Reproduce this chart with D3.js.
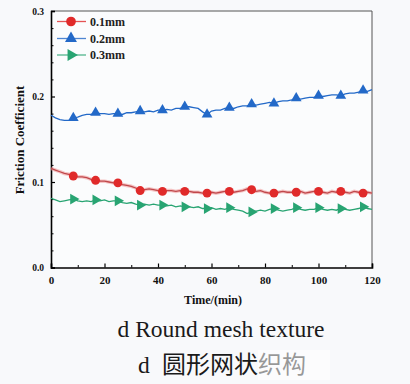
<!DOCTYPE html>
<html><head><meta charset="utf-8">
<script src="https://cdn.jsdelivr.net/npm/d3@7"></script>
<style>html,body{margin:0;padding:0;background:#f8f9fb;}svg{display:block;}</style>
</head><body><svg id="c" width="410" height="384"></svg>
<script>
const seriesNames = ["0.1mm", "0.2mm", "0.3mm"];
const seriesColors = ["#e02a2a", "#2369c8", "#28a472"];
const timeStep = 5/3; // minutes between samples
const markerEvery = 5;
const xTicks = [0, 20, 40, 60, 80, 100, 120];
const yTicks = [0.0, 0.1, 0.2, 0.3];
const yTickLabels = ["0.0", "0.1", "0.2", "0.3"];
const red01 = [0.116,0.114,0.112,0.110,0.109,0.107,0.106,0.106,0.105,0.103,0.102,0.101,0.101,0.100,0.099,0.099,0.097,0.096,0.095,0.093,0.090,0.091,0.092,0.091,0.090,0.089,0.090,0.090,0.089,0.090,0.089,0.089,0.088,0.088,0.087,0.087,0.088,0.087,0.088,0.089,0.089,0.088,0.089,0.090,0.092,0.091,0.089,0.090,0.088,0.087,0.087,0.088,0.089,0.088,0.088,0.088,0.089,0.087,0.088,0.089,0.089,0.088,0.087,0.089,0.088,0.089,0.088,0.087,0.089,0.088,0.087,0.088,0.087];
const blue02 = [0.178,0.175,0.173,0.172,0.172,0.175,0.176,0.178,0.179,0.179,0.181,0.180,0.180,0.179,0.180,0.180,0.179,0.181,0.181,0.182,0.183,0.182,0.183,0.182,0.184,0.184,0.185,0.184,0.186,0.186,0.188,0.188,0.187,0.186,0.182,0.179,0.183,0.184,0.184,0.186,0.187,0.186,0.188,0.189,0.189,0.191,0.190,0.191,0.192,0.193,0.192,0.194,0.195,0.195,0.196,0.198,0.197,0.198,0.199,0.199,0.201,0.200,0.201,0.202,0.202,0.201,0.203,0.204,0.204,0.205,0.207,0.206,0.208];
const green03 = [0.081,0.079,0.077,0.078,0.079,0.080,0.078,0.077,0.078,0.077,0.079,0.078,0.079,0.077,0.078,0.078,0.076,0.075,0.076,0.074,0.073,0.074,0.073,0.074,0.073,0.073,0.072,0.073,0.071,0.072,0.071,0.071,0.070,0.071,0.069,0.069,0.070,0.068,0.069,0.068,0.070,0.068,0.067,0.066,0.063,0.065,0.066,0.067,0.066,0.068,0.069,0.067,0.066,0.067,0.068,0.070,0.068,0.067,0.068,0.068,0.070,0.068,0.067,0.068,0.067,0.069,0.068,0.067,0.068,0.069,0.071,0.069,0.068];
const xTitle = "Time/(min)";
const yTitle = "Friction Coefficient";
const captionEn = "d Round mesh texture";
const captionZh = "圆形网状织构";

const svg = d3.select("#c");
const m = {l:51, r:372, t:11, b:267.5};
const x = d3.scaleLinear().domain([0,120]).range([m.l, m.r]);
const y = d3.scaleLinear().domain([0,0.3]).range([m.b, m.t]);
const serif = "'Liberation Serif','Times New Roman',serif";

svg.append("rect").attr("x",0).attr("y",0).attr("width",410).attr("height",384).attr("fill","#f8f9fb");
svg.append("rect").attr("x",m.l).attr("y",m.t).attr("width",m.r-m.l).attr("height",m.b-m.t).attr("fill","#fbfcfd");

// frame top/right
svg.append("path").attr("d",`M${m.l},${m.t}H${m.r}V${m.b}`).attr("fill","none").attr("stroke","#555").attr("stroke-width",1);

// axes
const xAxis = d3.axisBottom(x).tickValues(xTicks).tickSize(-4).tickPadding(9).tickFormat(d3.format("d"));
const gx = svg.append("g").attr("transform",`translate(0,${m.b})`).call(xAxis);
gx.select(".domain").attr("stroke","#000").attr("stroke-width",1.6);
gx.selectAll(".tick line").attr("stroke","#000").attr("stroke-width",1.2);
gx.selectAll("text").attr("font-family",serif).attr("font-weight","bold").attr("font-size",11).attr("fill","#111");
const xMinor = d3.axisBottom(x).tickValues(d3.range(10,120,20)).tickSize(-2.5).tickFormat("");
const gxm = svg.append("g").attr("transform",`translate(0,${m.b})`).call(xMinor);
gxm.select(".domain").remove(); gxm.selectAll("line").attr("stroke","#000");

const yAxis = d3.axisLeft(y).tickValues(yTicks).tickSize(-4).tickPadding(7).tickFormat((d,i)=>yTickLabels[i]);
const gy = svg.append("g").attr("transform",`translate(${m.l},0)`).call(yAxis);
gy.select(".domain").attr("stroke","#000").attr("stroke-width",1.6);
gy.selectAll(".tick line").attr("stroke","#000").attr("stroke-width",1.2);
gy.selectAll("text").attr("font-family",serif).attr("font-weight","bold").attr("font-size",9.5).attr("fill","#111");
const yMinor = d3.axisLeft(y).tickValues(d3.range(0.02,0.3,0.02).filter(v=>Math.abs(v*10-Math.round(v*10))>0.01)).tickSize(-2.5).tickFormat("");
const gym = svg.append("g").attr("transform",`translate(${m.l},0)`).call(yMinor);
gym.select(".domain").remove(); gym.selectAll("line").attr("stroke","#000");

// series
const allSeries = [red01, blue02, green03];
const symbols = [d3.symbolCircle, d3.symbolTriangle, d3.symbolTriangle];
const rotations = [0, 0, 90];
const sizes = [62, 50, 50];
const line = d3.line().x((d,i)=>x(i*timeStep)).y(d=>y(d));
allSeries.forEach((vals,k)=>{
  if(k===0){
    svg.append("path").datum(vals).attr("d",line).attr("fill","none").attr("stroke","#f2a0a0").attr("stroke-width",3.5).attr("opacity",0.6);
  }
  svg.append("path").datum(vals).attr("d",line).attr("fill","none").attr("stroke",k===0?"#c0484c":seriesColors[k]).attr("stroke-width",1.3);
  const mk = vals.map((v,i)=>({v,i})).filter(d=>d.i>0 && d.i%markerEvery===0);
  svg.append("g").selectAll("path").data(mk).join("path")
    .attr("d", d3.symbol().type(symbols[k]).size(sizes[k]))
    .attr("transform", d=>`translate(${x(d.i*timeStep)},${y(d.v)}) rotate(${rotations[k]})`)
    .attr("fill", seriesColors[k]);
});

// legend
const lg = svg.append("g");
[21.5, 38.5, 55].forEach((ly,k)=>{
  lg.append("line").attr("x1",57).attr("x2",86).attr("y1",ly).attr("y2",ly).attr("stroke",seriesColors[k]).attr("stroke-width",1.3).attr("opacity",0.8);
  lg.append("path").attr("d",d3.symbol().type(symbols[k]).size(sizes[k]+12)).attr("transform",`translate(71,${ly}) rotate(${rotations[k]})`).attr("fill",seriesColors[k]);
  lg.append("text").attr("x",90).attr("y",ly+4).text(seriesNames[k]).attr("font-family",serif).attr("font-weight","bold").attr("font-size",12).attr("fill","#222");
});

// titles
svg.append("text").attr("x",213).attr("y",304).attr("text-anchor","middle").text(xTitle)
  .attr("font-family",serif).attr("font-weight","bold").attr("font-size",12).attr("fill","#111");
svg.append("text").attr("transform","translate(24,140) rotate(-90)").attr("text-anchor","middle").text(yTitle)
  .attr("font-family",serif).attr("font-weight","bold").attr("font-size",13).attr("fill","#111");

// captions
svg.append("text").attr("x",221).attr("y",337).attr("text-anchor","middle").text(captionEn)
  .attr("font-family",serif).attr("font-size",23.5).attr("fill","#1a1a1a");
svg.append("text").attr("x",138).attr("y",373).text("d")
  .attr("font-family",serif).attr("font-size",23.5).attr("fill","#1a1a1a");
svg.append("text").attr("x",162).attr("y",373).text(captionZh)
  .attr("font-family","'Noto Sans CJK SC',sans-serif").attr("font-size",24).attr("fill","#1a1a1a");
// faded watermark overlay
svg.append("rect").attr("x",258).attr("y",350).attr("width",72).attr("height",30).attr("fill","#ffffff").attr("opacity",0.55);
</script></body></html>
